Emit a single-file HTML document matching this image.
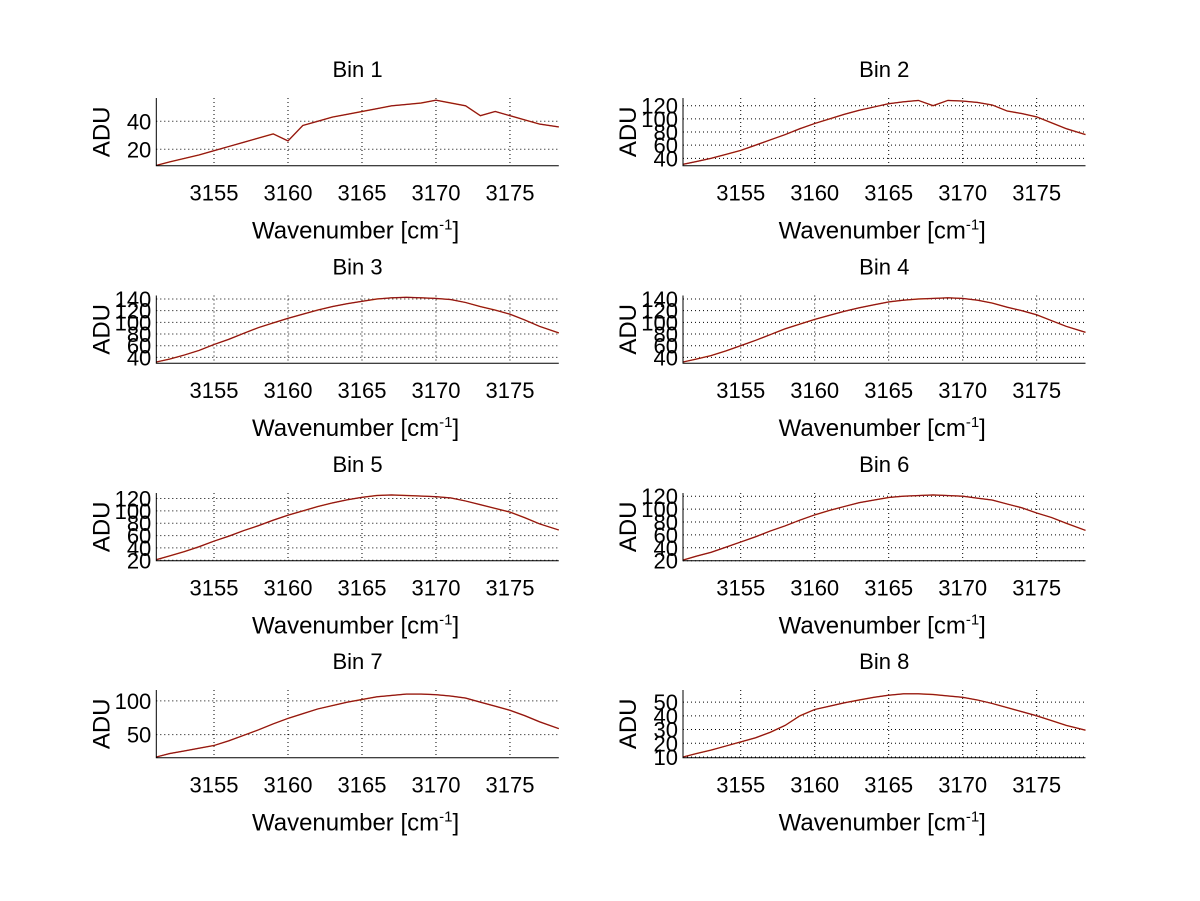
<!DOCTYPE html>
<html><head><meta charset="utf-8"><style>
body{margin:0;background:#fff;}
svg{display:block;font-family:"Liberation Sans",Arial,sans-serif;}
</style></head><body>
<svg id="fig" width="1200" height="901" viewBox="0 0 1200 901"></svg>
<script>
const xGrid=[3151.1,3152,3153,3154,3155,3156,3157,3158,3159,3160,3161,3162,3163,3164,3165,3166,3167,3168,3169,3170,3171,3172,3173,3174,3175,3176,3177,3178.3];
const bin1=[8.5,11,13.5,16,19,22,25,28,31,26,37,40,43,45,47,49,51,52,53,55,53,51,44,47,44,41,38,36];
const bin2=[31,35,40,46,52,60,68,76,85,93,100,107,113,118,123,126,128,120,128,127,125,121,112,108,103,94,85,76];
const bin3=[32,37,44,52,62,71,81,91,99,107,114,121,127,132,136,140,142,143,142,141,139,134,127,121,114,104,93,82];
const bin4=[32,37,43,51,60,69,79,89,97,105,112,119,125,130,135,138,140,141,142,141,138,133,126,120,113,103,93,83];
const bin5=[21,27,34,42,51,59,68,76,85,93,100,107,113,118,122,125,126,125,124,123,121,116,110,104,98,89,79,69];
const bin6=[21,27,33,41,49,57,66,74,83,91,98,104,110,114,118,120,121,122,121,120,117,114,108,102,94,87,78,67];
const bin7=[17,22,26,30,34,41,49,57,66,74,81,88,93,98,102,106,108,110,110,109,107,104,98,92,86,78,69,59];
const bin8=[10,12.5,15,18,21,24,28,33,40,44.6,47,49.5,51.5,53.5,55,56,56,55.5,54.5,53.5,51.5,49,46,43,40,36.5,33,29.5];
const xTicks=[3155,3160,3165,3170,3175];
const yTicks1=[20,40];
const yTicks2=[40,60,80,100,120];
const yTicks3=[40,60,80,100,120,140];
const yTicks5=[20,40,60,80,100,120];
const yTicks7=[50,100];
const yTicks8=[10,20,30,40,50];
const titles=["Bin 1","Bin 2","Bin 3","Bin 4","Bin 5","Bin 6","Bin 7","Bin 8"];
const series=[bin1,bin2,bin3,bin4,bin5,bin6,bin7,bin8];
const yLims=[[8.3,56.6],[28.8,131.7],[30,146],[30,146],[19.3,129],[20,125],[16,116],[9.5,58.8]];
const yTickSets=[yTicks1,yTicks2,yTicks3,yTicks3,yTicks5,yTicks5,yTicks7,yTicks8];
const xLim=[3151.1,3178.3];
const NS="http://www.w3.org/2000/svg";
const svg=document.getElementById('fig');
function mk(t,a,p){const e=document.createElementNS(NS,t);for(const k in a)e.setAttribute(k,a[k]);(p||svg).appendChild(e);return e;}
const colL=[156.3,683],W=402.5,rowT=[98,295.5,493,690],H=67.7;
for(let i=0;i<8;i++){
  const L=colL[i%2],T=rowT[Math.floor(i/2)],B=T+H,R=L+W;
  const g=mk('g',{});
  
  
  const xs=v=>L+(v-xLim[0])/(xLim[1]-xLim[0])*W;
  const ys=v=>B-(v-yLims[i][0])/(yLims[i][1]-yLims[i][0])*H;
  xTicks.forEach(t=>{const l=mk('line',{x1:xs(t),x2:xs(t),y1:T,y2:B,stroke:'#000','stroke-width':1,'stroke-dasharray':'1,3'},g);
    
    const tx=mk('text',{x:xs(t),y:B+35,'font-size':22,'text-anchor':'middle'},g);tx.textContent=t;
    });
  yTickSets[i].forEach(t=>{const l=mk('line',{x1:L,x2:R,y1:ys(t),y2:ys(t),stroke:'#000','stroke-width':1,'stroke-dasharray':'1,3'},g);
    
    const tx=mk('text',{x:L-5,y:ys(t)+8,'font-size':22,'text-anchor':'end'},g);tx.textContent=t;
    });
  const pts=series[i].map((v,j)=>xs(xGrid[j]).toFixed(1)+','+ys(v).toFixed(1)).join(' ');
  const p2=mk('polyline',{points:pts,fill:'none',stroke:'#e07000','stroke-width':1.4},g);
  
  const p=mk('polyline',{points:pts,fill:'none',stroke:'#8b1020','stroke-width':1.1},g);
  
  const ax=mk('path',{d:`M${L},${T}V${B}H${R}`,fill:'none',stroke:'#000','stroke-width':1},g);
  
  const ti=mk('text',{x:L+W/2,y:T-21,'font-size':22,'text-anchor':'middle'},g);ti.textContent=titles[i];
  
  const xl=mk('text',{x:L+W/2-2,y:B+73,'font-size':24,'text-anchor':'middle'},g);
  xl.innerHTML='Wavenumber [cm<tspan dy="-9" font-size="15">-1</tspan><tspan dy="9">]</tspan>';
  
  const yl=mk('text',{x:0,y:0,'font-size':24,'text-anchor':'middle',transform:`translate(${L-47},${T+H/2}) rotate(-90)`},g);yl.textContent='ADU';
  
}
</script>
</body></html>
